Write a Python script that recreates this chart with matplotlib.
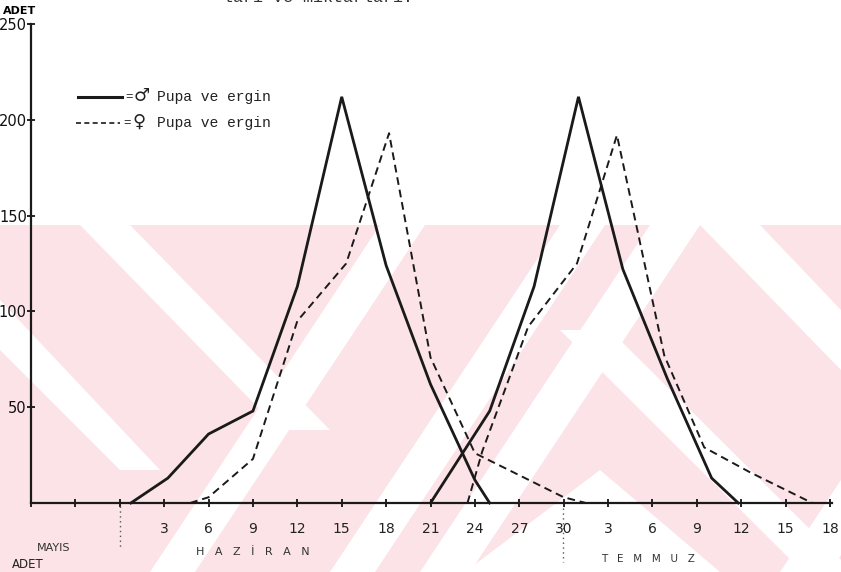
import matplotlib
matplotlib.use("Agg")
import matplotlib.pyplot as plt
from matplotlib.lines import Line2D
from matplotlib.patches import Polygon, Rectangle

# ---------------- data (days counted from 31 May = 0) ----------------
male1_x = [0.75, 3.25, 6, 9, 12, 15, 18, 21, 24, 25]
male1_y = [0, 13, 36, 48, 113, 212, 124, 62, 12, 0]
fem1_x = [4.75, 6, 9, 12, 15.3, 18.2, 21, 24, 30, 31.5]
fem1_y = [0, 3, 23, 95, 125, 193, 76, 26, 3, 0]
male2_x = [21, 25, 28, 31, 34, 37, 40, 41.8]
male2_y = [0, 48, 113, 212, 122, 65, 13, 0]
fem2_x = [23.5, 24.5, 27.6, 30.9, 33.6, 36.8, 39.5, 42.6, 46.8]
fem2_y = [0, 27, 92, 125, 192, 77, 29, 16, 0]

xtick_pos = list(range(-6, 49, 3))
xtick_labels = ['', '', '', '3', '6', '9', '12', '15', '18', '21', '24', '27', '30',
                '3', '6', '9', '12', '15', '18']
ytick_pos = [50, 100, 150, 200, 250]
ytick_labels = ['50', '100', '150', '200', '250']

W, H = 841, 572
fig = plt.figure(figsize=(W / 100, H / 100), dpi=100)
fig.patch.set_facecolor('white')


def fx(x):
    return x / W


def fy(y):
    return 1 - y / H


# ---------------- background watermark (approximate) ----------------
pink = '#fbe3e7'
fig.add_artist(Rectangle((0, fy(H)), 1, fy(225) - fy(H), transform=fig.transFigure,
                         facecolor=pink, edgecolor='none', zorder=-10))
white_bands = [
    # up-right bands
    [(150, 572), (195, 572), (425, 225), (380, 225)],
    [(330, 572), (375, 572), (605, 225), (560, 225)],
    [(420, 572), (470, 572), (700, 225), (650, 225)],
    [(780, 572), (830, 572), (841, 555), (841, 480)],
    # down-right bands
    [(80, 225), (130, 225), (330, 430), (280, 430)],
    [(0, 300), (0, 350), (120, 470), (160, 470)],
    [(700, 225), (760, 225), (841, 310), (841, 370)],
    [(560, 330), (610, 330), (841, 560), (841, 610)],
]
for b in white_bands:
    fig.add_artist(Polygon([(fx(x), fy(y)) for x, y in b], closed=True,
                           transform=fig.transFigure, facecolor='white',
                           edgecolor='none', zorder=-9))
fig.add_artist(Polygon([(fx(465), fy(572)), (fx(600), fy(470)), (fx(720), fy(572))],
                       closed=True, transform=fig.transFigure, facecolor='white',
                       edgecolor='none', zorder=-9))

# ---------------- axes ----------------
x0_px, x1_px = 31, 832
y0_px, y1_px = 503, 24
ax = fig.add_axes([fx(x0_px), fy(y0_px), (x1_px - x0_px) / W, (y0_px - y1_px) / H])
ax.patch.set_alpha(0)
ax.set_xlim(-6, 48 + 3 * 2 / 44.4)
ax.set_ylim(0, 250)
for s in ['top', 'right']:
    ax.spines[s].set_visible(False)
for s in ['left', 'bottom']:
    ax.spines[s].set_linewidth(1.6)
    ax.spines[s].set_color('#1a1a1a')

ax.set_xticks(xtick_pos)
ax.set_xticklabels(xtick_labels, fontsize=10, color='#222222')
ax.set_yticks(ytick_pos)
ax.set_yticklabels(ytick_labels, fontsize=10.5, color='#111111')
ax.tick_params(axis='x', direction='inout', length=6, width=1.2, pad=11)
ax.tick_params(axis='y', direction='inout', length=6, width=1.2, pad=0)

ax.plot(male1_x, male1_y, color='#1a1a1a', lw=2.0, solid_joinstyle='miter', clip_on=False)
ax.plot(male2_x, male2_y, color='#1a1a1a', lw=2.0, solid_joinstyle='miter', clip_on=False)
ax.plot(fem1_x, fem1_y, color='#1a1a1a', lw=1.4, dashes=(4, 2.5), clip_on=False)
ax.plot(fem2_x, fem2_y, color='#1a1a1a', lw=1.4, dashes=(4, 2.5), clip_on=False)

# ---------------- legend ----------------
fig.add_artist(Line2D([fx(78), fx(122)], [fy(97), fy(97)], transform=fig.transFigure,
                      color='#1a1a1a', lw=2.2))
fig.add_artist(Line2D([fx(76), fx(120)], [fy(123), fy(123)], transform=fig.transFigure,
                      color='#1a1a1a', lw=1.2, dashes=(3, 2)))
for yy, x_eq, sym in [(97, 125, '\u2642'), (123, 123, '\u2640')]:
    fig.text(fx(x_eq), fy(yy), '=', fontsize=9, va='center', ha='left',
             family='Liberation Mono', color='#222222')
    fig.text(fx(x_eq + 9), fy(yy - 1), sym, fontsize=13, va='center', ha='left',
             family='DejaVu Sans', color='#222222')
    fig.text(fx(157), fy(yy), 'Pupa ve ergin', fontsize=10.5, va='center', ha='left',
             family='Liberation Mono', color='#222222')

# ---------------- annotations ----------------
fig.text(fx(20), fy(11), 'ADET', fontsize=8, fontweight='bold', ha='center', va='center')
fig.text(fx(54), fy(548), 'MAYIS', fontsize=8, ha='center', va='center', color='#333333')
fig.text(fx(28), fy(565), 'ADET', fontsize=8.5, ha='center', va='center', color='#222222')
fig.text(fx(253), fy(552), 'H   A   Z   İ   R   A   N', fontsize=8, ha='center', va='center',
         color='#333333')
fig.text(fx(648), fy(559), 'T   E   M   M   U   Z', fontsize=7.5, ha='center', va='center',
         color='#333333')
fig.text(fx(318), fy(-2), 'ları ve miktarları.', fontsize=12, ha='center', va='center',
         family='Liberation Mono', color='#333333')

fig.add_artist(Line2D([fx(120), fx(120)], [fy(506), fy(547)], transform=fig.transFigure,
                      color='#555555', lw=1.0, linestyle=(0, (1, 2.5))))
fig.add_artist(Line2D([fx(563), fx(563)], [fy(508), fy(562)], transform=fig.transFigure,
                      color='#555555', lw=1.0, linestyle=(0, (1, 2.5))))

fig.savefig('out.png', dpi=100)
